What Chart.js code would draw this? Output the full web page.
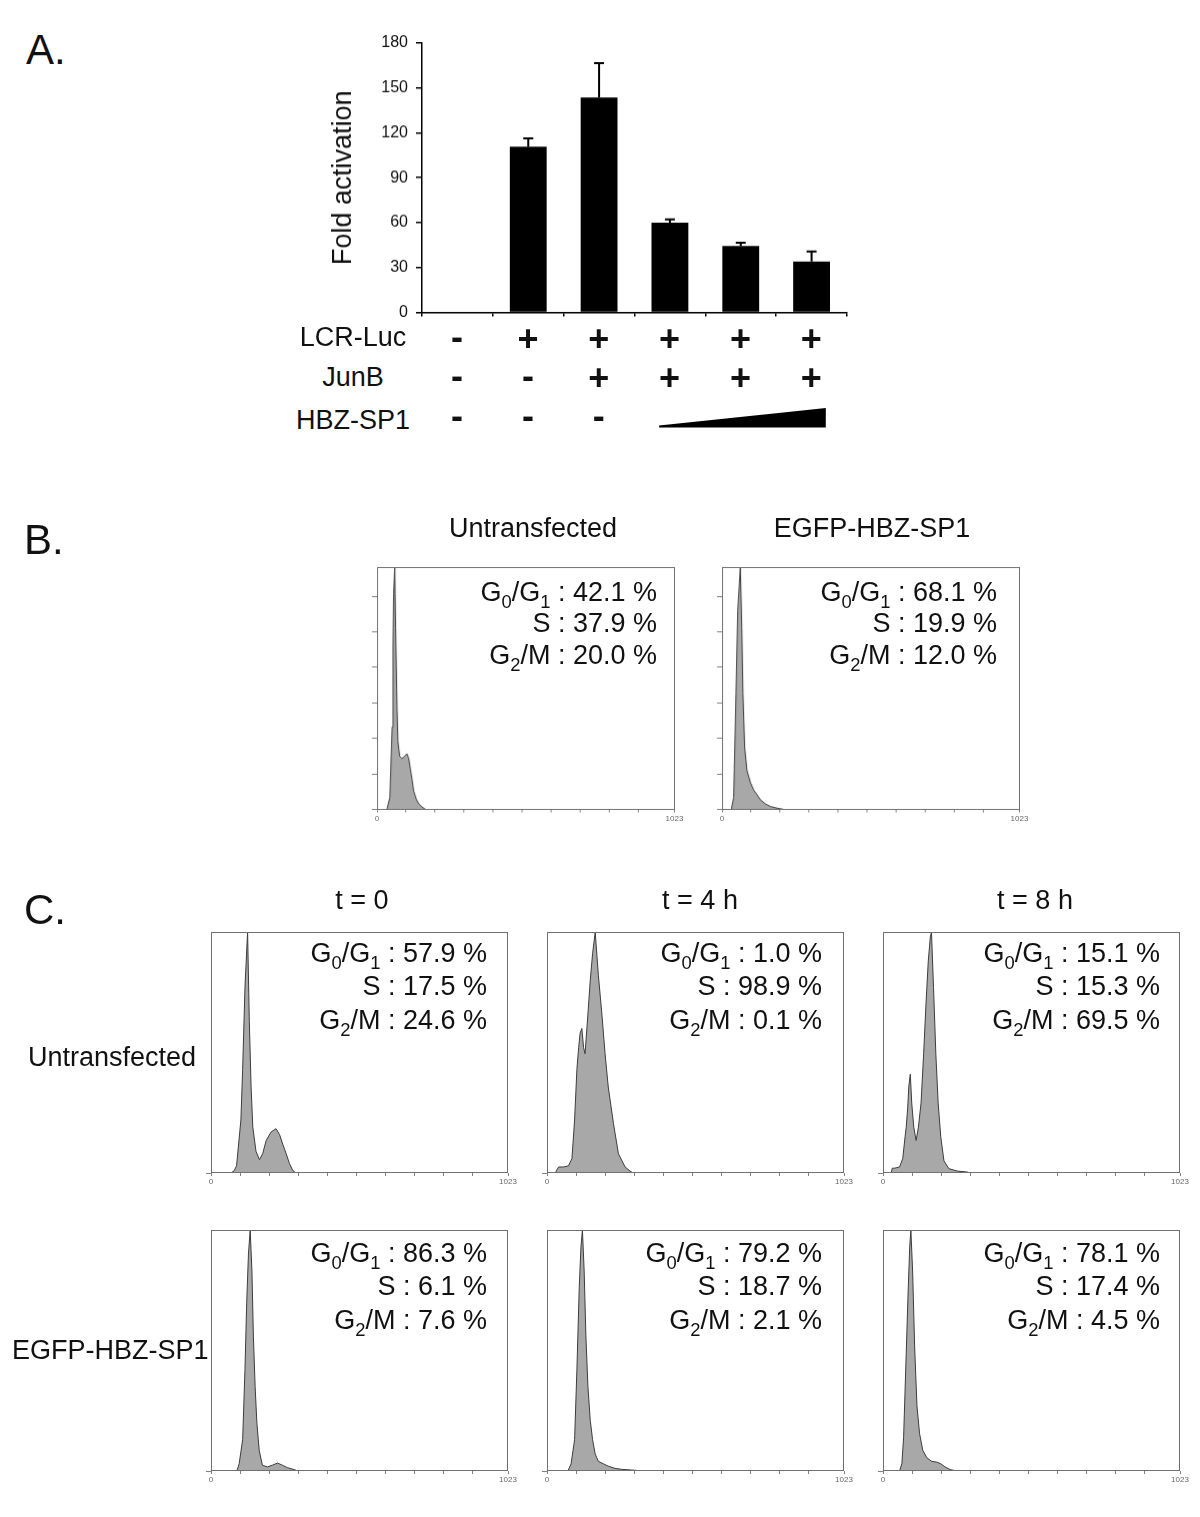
<!DOCTYPE html>
<html>
<head>
<meta charset="utf-8">
<script src="https://cdn.jsdelivr.net/npm/chart.js@4.4.1/dist/chart.umd.min.js"></script>
<style>
  html, body { margin: 0; padding: 0; background: #fff; }
  #page { position: relative; width: 1200px; height: 1517px; overflow: hidden; }
  .chart { position: absolute; }
  .t { position: absolute; line-height: 1; white-space: nowrap; color: #111;
       font-family: "Liberation Sans", Arial, sans-serif; }
  .sb { font-size: .68em; position: relative; top: .38em; }
  .sign { font-weight: bold; }
</style>
</head>
<body>
<div id="page"></div>
<script>
// ---- panel A: luciferase assay ----
const foldActivation = [0, 110.7, 143.6, 59.9, 44.3, 34.0];
const foldError = [0, 5.6, 23.0, 2.3, 2.2, 6.7];
const foldTicks = [0, 30, 60, 90, 120, 150, 180];
const lcrLuc = ['-', '+', '+', '+', '+', '+'];
const junB = ['-', '-', '+', '+', '+', '+'];
const hbzSp1 = ['-', '-', '-', 1, 2, 3]; // increasing dose, drawn as a wedge

// ---- panel B / C: cell cycle percentages (G0/G1, S, G2/M) ----
const groupsB = ['Untransfected', 'EGFP-HBZ-SP1'];
const cycleB = [[42.1, 37.9, 20.0], [68.1, 19.9, 12.0]];
const timesC = ['t = 0', 't = 4 h', 't = 8 h'];
const rowsC = ['Untransfected', 'EGFP-HBZ-SP1'];
const cycleCUntr = [[57.9, 17.5, 24.6], [1.0, 98.9, 0.1], [15.1, 15.3, 69.5]];
const cycleCEgfp = [[86.3, 6.1, 7.6], [79.2, 18.7, 2.1], [78.1, 17.4, 4.5]];

// DNA content histograms: [channel, % of max count]
const channelTicks = [0, 100, 200, 300, 400, 500, 600, 700, 800, 900, 1023];
const histBUntr = [[0,0],[34,0],[44,5],[52,34],[55,68],[57,89],[61,100],[64,75],[69,41],[72,28],[78,22],[86,21],[95,22],[103,23],[109,21],[115,16.5],[121,12],[126,7.6],[136,4],[144,2.3],[155,1],[167,0],[1023,0]];
const histBEgfp = [[0,0],[32,0],[40,5],[48,48],[54,82],[63,100],[68,75],[72,48],[78,25.5],[86,16],[98,11],[109,8],[121,6],[132,4],[149,2.3],[167,1.2],[190,0.5],[213,0],[1023,0]];
const histT0Untr = [[0,0],[69,0],[80,1],[88,3],[103,22],[109,43],[117,77],[126,100],[132,63],[138,36],[144,19],[155,9],[167,5.5],[178,8],[190,13.5],[207,17],[224,18.4],[236,16],[247,12],[259,8],[270,4],[282,1],[293,0],[1023,0]];
const histT4Untr = [[0,0],[29,0],[35,1.5],[40,2.5],[57,2.5],[74,3],[86,6],[95,22],[103,43],[109,52],[114,58],[120,60],[126,52],[131,49.5],[141,66],[149,80],[157,91],[166,100],[177,82],[189,66],[200,49.5],[211,35.7],[229,20.5],[246,8],[269,2.5],[286,0.8],[297,0],[1023,0]];
const histT8Untr = [[0,0],[28,0],[32,2],[40,2],[57,2.5],[68,6],[76,15],[80,19],[85,27],[89,36],[94,41],[99,29],[106,19],[114,13.5],[122,19],[131,29],[140,49.5],[148,70],[156,88],[163,98],[167,100],[174,77],[182,49.5],[190,29],[199,15],[210,5],[227,1.8],[256,0.8],[290,0.4],[301,0],[1023,0]];
const histT0Egfp = [[0,0],[89,0],[97,3],[109,13],[117,42],[123,70],[129,90],[135,100],[141,83],[146,56],[152,35],[158,20],[166,8.6],[177,2.4],[194,1.7],[211,2.4],[229,3.3],[246,2.4],[263,1.4],[286,0.6],[299,0],[1023,0]];
const histT4Egfp = [[0,0],[72,0],[83,3],[95,13],[103,42],[111,76],[117,93],[122,100],[128,83],[134,56],[141,35],[149,21],[157,13],[166,7],[177,4],[194,3],[211,2],[234,1.1],[257,0.7],[291,0.4],[337,0],[1023,0]];
const histT8Egfp = [[0,0],[57,0],[65,3],[71,14],[80,49],[87,76],[92,93],[96,100],[102,83],[109,51.5],[117,27],[126,15.5],[137,8.6],[151,5.5],[168,4],[185,3.7],[199,3],[214,1.7],[231,0.6],[254,0],[1023,0]];

Chart.defaults.font.family = '"Liberation Sans", Arial, sans-serif';
Chart.defaults.color = '#111';

const page = document.getElementById('page');

function addText(html, x, y, size, align, cls) {
  const d = document.createElement('div');
  d.className = 't' + (cls ? ' ' + cls : '');
  d.innerHTML = html;
  d.style.left = x + 'px';
  d.style.top = y + 'px';
  d.style.fontSize = size + 'px';
  const tx = align === 'left' ? 0 : align === 'right' ? -100 : -50;
  d.style.transform = `translate(${tx}%, -50%)`;
  page.appendChild(d);
  return d;
}

function makeWrap(left, top, width, height) {
  const wrap = document.createElement('div');
  wrap.className = 'chart';
  Object.assign(wrap.style, { left: left + 'px', top: top + 'px', width: width + 'px', height: height + 'px' });
  const cv = document.createElement('canvas');
  wrap.appendChild(cv);
  page.appendChild(wrap);
  return cv;
}

// box around the plot area of each histogram
const frame = {
  id: 'frame',
  afterDatasetsDraw(chart) {
    const { ctx, chartArea: a } = chart;
    ctx.save();
    ctx.strokeStyle = '#707070';
    ctx.lineWidth = 1;
    ctx.strokeRect(Math.round(a.left) + 0.5, Math.round(a.top) + 0.5,
      Math.round(a.right - a.left) - 1, Math.round(a.bottom - a.top) - 1);
    ctx.restore();
  }
};

// upper error whiskers for panel A
const errorBars = {
  id: 'errorBars',
  afterDatasetsDraw(chart) {
    const { ctx, scales: { x, y } } = chart;
    ctx.save();
    ctx.strokeStyle = '#000';
    ctx.lineWidth = 2;
    foldActivation.forEach((v, i) => {
      if (!foldError[i]) return;
      const px = x.getPixelForValue(i);
      const y0 = y.getPixelForValue(v);
      const y1 = y.getPixelForValue(v + foldError[i]);
      ctx.beginPath();
      ctx.moveTo(px, y0);
      ctx.lineTo(px, y1);
      ctx.moveTo(px - 5, y1);
      ctx.lineTo(px + 5, y1);
      ctx.stroke();
    });
    ctx.restore();
  }
};

// ---------------- Panel A ----------------
addText('A.', 26, 50, 42, 'left');

const aArea = { x: 421.7, y: 43.3, w: 425, h: 268.4 };
const aYw = 99, aXh = 10, aPad = 10;
const aLeft = aArea.x - aYw - aPad, aTop = aArea.y - aPad;
const barCanvas = makeWrap(aLeft, aTop, aArea.w + aYw + 2 * aPad, aArea.h + aXh + 2 * aPad);

const barChart = new Chart(barCanvas, {
  type: 'bar',
  data: {
    labels: foldActivation.map((_, i) => String(i + 1)),
    datasets: [{
      data: foldActivation,
      backgroundColor: '#000',
      borderWidth: 0,
      barPercentage: 0.52,
      categoryPercentage: 1.0
    }]
  },
  options: {
    responsive: true,
    maintainAspectRatio: false,
    animation: false,
    layout: { padding: aPad },
    plugins: { legend: { display: false }, tooltip: { enabled: false } },
    scales: {
      x: {
        ticks: { display: false },
        grid: { drawOnChartArea: false, offset: true, tickLength: 4, color: '#000', lineWidth: 1.5 },
        border: { color: '#000', width: 1.5 },
        afterFit: s => { s.height = aXh; s.paddingLeft = 0; s.paddingRight = 0; }
      },
      y: {
        min: 0,
        max: 180,
        afterBuildTicks: s => { s.ticks = foldTicks.map(v => ({ value: v })); },
        ticks: { padding: 8, font: { size: 16 }, color: '#111' },
        grid: { drawOnChartArea: false, tickLength: 6, color: '#000', lineWidth: 1.5 },
        border: { color: '#000', width: 1.5 },
        title: { display: true, text: 'Fold activation', font: { size: 27 }, color: '#111', padding: { top: 4, bottom: 4 } },
        afterFit: s => { s.width = aYw; s.paddingTop = 0; s.paddingBottom = 0; }
      }
    }
  },
  plugins: [errorBars]
});

// condition table under the bars, aligned to the category scale
const xs = barChart.scales.x;
const colX = i => aLeft + xs.getPixelForValue(i);
const signRows = [
  { name: 'LCR-Luc', vals: lcrLuc, y: 339, ly: 337 },
  { name: 'JunB', vals: junB, y: 378, ly: 377 },
  { name: 'HBZ-SP1', vals: hbzSp1, y: 418, ly: 420 }
];
signRows.forEach(r => {
  addText(r.name, 353, r.ly, 27, 'center');
  r.vals.forEach((v, i) => {
    if (v === '+') addText('+', colX(i), r.y, 36, 'center', 'sign');
    else if (v === '-') addText('-', colX(i), r.y - 2, 36, 'center', 'sign');
  });
});
// wedge for increasing HBZ-SP1
const doseIdx = hbzSp1.map((v, i) => (typeof v === 'number' ? i : -1)).filter(i => i >= 0);
const wL = colX(doseIdx[0]) - 10.5, wR = colX(doseIdx[doseIdx.length - 1]) + 14.5;
const svgNS = 'http://www.w3.org/2000/svg';
const wedge = document.createElementNS(svgNS, 'svg');
wedge.setAttribute('width', 1200);
wedge.setAttribute('height', 1517);
wedge.style.position = 'absolute';
wedge.style.left = '0px';
wedge.style.top = '0px';
const poly = document.createElementNS(svgNS, 'polygon');
poly.setAttribute('points', `${wL},425.5 ${wR},408 ${wR},427.5 ${wL},427.5`);
poly.setAttribute('fill', '#000');
wedge.appendChild(poly);
page.appendChild(wedge);

// ---------------- histogram helper ----------------
function histogram(box, points, yTicks) {
  const yw = 10, xh = 16, pad = 3, padR = 14;
  const cv = makeWrap(box.x - yw - pad, box.y - pad, box.w + yw + pad + padR, box.h + xh + 2 * pad);
  return new Chart(cv, {
    type: 'line',
    data: {
      datasets: [{
        data: points.map(([x, y]) => ({ x, y })),
        fill: 'origin',
        backgroundColor: '#a8a8a8',
        borderColor: '#3c3c3c',
        borderWidth: 1,
        pointRadius: 0,
        tension: 0
      }]
    },
    options: {
      responsive: true,
      maintainAspectRatio: false,
      animation: false,
      layout: { padding: { left: pad, top: pad, bottom: pad, right: padR } },
      plugins: { legend: { display: false }, tooltip: { enabled: false } },
      scales: {
        x: {
          type: 'linear',
          min: 0,
          max: 1023,
          afterBuildTicks: s => { s.ticks = channelTicks.map(v => ({ value: v })); },
          afterFit: s => { s.height = xh; s.paddingLeft = 0; s.paddingRight = 0; },
          grid: { drawOnChartArea: false, tickLength: 3, color: '#808080' },
          border: { display: false },
          ticks: {
            autoSkip: false, maxRotation: 0, padding: 1,
            font: { size: 8 }, color: '#666',
            callback: v => (v === 0 || v === 1023) ? String(v) : ''
          }
        },
        y: {
          min: 0,
          max: 100,
          afterBuildTicks: s => { s.ticks = yTicks.map(v => ({ value: v })); },
          afterFit: s => { s.width = yw; s.paddingTop = 0; s.paddingBottom = 0; },
          grid: { drawOnChartArea: false, tickLength: 5, color: '#808080' },
          border: { display: false },
          ticks: { display: false }
        }
      }
    },
    plugins: [frame]
  });
}

function stats(vals, right, top, gap) {
  const lines = [
    `G<span class="sb">0</span>/G<span class="sb">1</span> : ${vals[0].toFixed(1)} %`,
    `S : ${vals[1].toFixed(1)} %`,
    `G<span class="sb">2</span>/M : ${vals[2].toFixed(1)} %`
  ];
  lines.forEach((h, i) => addText(h, right, top + i * gap, 27, 'right'));
}

// ---------------- Panel B ----------------
addText('B.', 24, 540, 42, 'left');
const bTicks = [0, 14.66, 29.32, 43.98, 58.64, 73.3, 87.96];
const bBoxes = [{ x: 377, y: 567, w: 296.5, h: 241.5 }, { x: 722, y: 567, w: 296.5, h: 241.5 }];
const bHists = [histBUntr, histBEgfp];
const bTitleX = [533, 872];
const bStatRight = [657, 997];
bBoxes.forEach((b, i) => {
  histogram(b, bHists[i], bTicks);
  addText(groupsB[i], bTitleX[i], 528, 27, 'center');
  stats(cycleB[i], bStatRight[i], 591.7, 31.7);
});

// ---------------- Panel C ----------------
addText('C.', 24, 910, 42, 'left');
const cColX = [211, 547, 883];
const cTitleX = [362, 700, 1035];
const cStatRight = [487, 822, 1160];
const cRowY = [931.5, 1229.5];
const cHists = [[histT0Untr, histT4Untr, histT8Untr], [histT0Egfp, histT4Egfp, histT8Egfp]];
const cStats = [cycleCUntr, cycleCEgfp];
const cStatTop = [953, 1253];
timesC.forEach((t, j) => addText(t, cTitleX[j], 900, 27, 'center'));
addText(rowsC[0], 28, 1057, 27, 'left');
addText(rowsC[1], 12, 1350, 27, 'left');
cRowY.forEach((y, r) => {
  cColX.forEach((x, j) => {
    histogram({ x, y, w: 297, h: 241 }, cHists[r][j], [0]);
    stats(cStats[r][j], cStatRight[j], cStatTop[r], 33.4);
  });
});
</script>
</body>
</html>
